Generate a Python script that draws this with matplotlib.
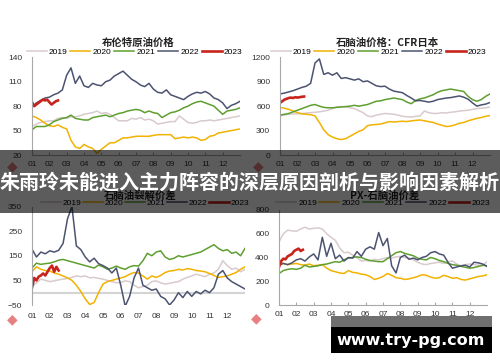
import numpy as np
import matplotlib
matplotlib.use("Agg")
import matplotlib.pyplot as plt
from matplotlib.patches import Rectangle

plt.rcParams["font.family"] = ["Liberation Sans", "DejaVu Sans"]
CJK = ["Noto Sans CJK SC", "DejaVu Sans"]

years = ["2019", "2020", "2021", "2022", "2023"]
colors = ["#d8cacd", "#f2b200", "#5e9f2f", "#4c5370", "#c8231c"]
months = ["01", "02", "03", "04", "05", "06", "07", "08", "09", "10", "11", "12"]

# one value per ~week, position in months (0 = 1 Jan, 12 = 31 Dec)
weeks = np.arange(49) * 0.25

# ---- 布伦特原油价格 ----
brent_2019 = [55, 58, 60, 61, 62, 62, 65, 66, 65, 67, 67, 68, 70, 71, 72, 74, 71, 72, 70, 66,
              62, 62, 62, 65, 64, 66, 63, 64, 62, 58, 59, 60, 61, 61, 68, 64, 60, 59, 60, 62,
              62, 63, 62, 63, 64, 65, 66, 67, 68]
brent_2020 = [68, 66, 63, 59, 56, 55, 57, 54, 52, 38, 30, 28, 33, 30, 28, 22, 27, 31, 35, 35,
              38, 41, 41, 42, 43, 43, 43, 43, 44, 45, 45, 45, 45, 40, 41, 42, 41, 42, 41, 38,
              39, 43, 44, 47, 48, 49, 50, 51, 52]
brent_2021 = [51, 55, 55, 55, 57, 61, 63, 65, 66, 69, 65, 64, 63, 63, 66, 67, 68, 69, 67, 69,
              71, 72, 74, 75, 76, 75, 72, 74, 72, 71, 66, 69, 72, 73, 75, 78, 80, 83, 85, 86,
              84, 82, 80, 75, 70, 74, 75, 76, 78]
brent_2022 = [79, 84, 87, 90, 91, 94, 96, 100, 118, 127, 108, 117, 105, 103, 108, 106, 105, 110,
              112, 117, 120, 123, 118, 113, 110, 106, 104, 108, 101, 97, 96, 100, 94, 92, 90, 88,
              92, 95, 97, 96, 98, 95, 90, 88, 84, 77, 81, 83, 86]
brent_2023 = [85, 80, 82, 84, 86, 88, 87, 88, 85, 82, 84, 86, 87]

# ---- 石脑油价格：CFR日本 ----
naphtha_2019 = [480, 490, 500, 505, 505, 510, 515, 520, 525, 530, 540, 550, 570, 590, 595, 590,
                580, 570, 545, 520, 480, 470, 490, 500, 510, 505, 500, 490, 475, 470, 465, 475,
                480, 540, 520, 510, 510, 520, 515, 525, 530, 540, 545, 550, 560, 570, 575, 580, 590]
naphtha_2020 = [585, 575, 560, 540, 520, 505, 500, 495, 480, 400, 310, 250, 220, 200, 190, 200,
                230, 260, 290, 310, 360, 370, 375, 380, 395, 410, 405, 410, 415, 410, 420, 425,
                430, 420, 410, 400, 380, 365, 350, 355, 370, 390, 400, 420, 435, 450, 460, 475, 485]
naphtha_2021 = [490, 500, 510, 530, 550, 570, 590, 610, 620, 600, 585, 580, 580, 585, 590, 595,
                600, 610, 600, 610, 620, 640, 660, 665, 680, 690, 700, 690, 680, 650, 630, 670,
                690, 700, 720, 740, 770, 790, 800, 810, 800, 790, 780, 720, 680, 660, 680, 720, 750]
naphtha_2022 = [750, 760, 775, 790, 810, 830, 845, 880, 1130, 1180, 990, 1010, 980, 1010, 940, 950,
                935, 920, 935, 900, 910, 880, 850, 840, 845, 810, 785, 775, 765, 730, 700, 665,
                670, 660, 650, 660, 680, 690, 700, 705, 715, 725, 710, 685, 640, 600, 615, 625, 645]
naphtha_2023 = [640, 660, 680, 690, 700, 705, 700, 710, 705, 710, 715, 718]

# ---- 石脑油裂解价差 ----
crack_2019 = [25, 40, 55, 50, 45, 48, 52, 55, 58, 62, 68, 65, 68, 60, 62, 58, 55, 50, 45, 40,
              42, 48, 45, 30, 20, 25, 30, 45, 48, 40, 35, 38, 42, 45, 55, 62, 68, 75, 70, 65,
              75, 80, 95, 130, 110, 95, 100, 85, 95]
crack_2020 = [85, 105, 95, 90, 88, 80, 75, 68, 60, 50, 30, 5, -25, -48, -40, 0, 35, 45, 50, 55,
              60, 65, 75, 82, 80, 68, 55, 68, 62, 70, 82, 88, 90, 95, 92, 98, 95, 90, 88, 85,
              78, 70, 62, 65, 68, 75, 82, 95, 105]
crack_2021 = [100, 120, 115, 118, 120, 125, 132, 135, 130, 125, 120, 115, 110, 105, 100, 112,
              105, 95, 100, 108, 100, 95, 105, 110, 108, 130, 160, 150, 165, 170, 145, 135,
              140, 150, 145, 150, 155, 160, 165, 175, 185, 195, 180, 170, 175, 160, 165, 150, 180]
crack_2022 = [177, 145, 165, 158, 170, 165, 172, 200, 300, 350, 190, 175, 145, 125, 140, 118,
              110, 100, 80, 100, 30, -55, -15, 60, 100, 30, 20, 10, 15, -15, -25, -50,
              -30, 0, -20, 5, -15, 5, -5, 10, 0, 20, 75, 90, 60, 45, 35, 25, 15]
crack_2023 = [20, 60, 50, 65, 70, 78, 70, 85, 100, 110, 85, 105, 90]

# ---- PX-石脑油价差 ----
px_2019 = [530, 600, 630, 625, 620, 640, 655, 640, 645, 650, 640, 600, 570, 545, 480, 440,
           445, 420, 400, 370, 375, 370, 385, 380, 390, 400, 395, 405, 410, 400, 395, 380,
           360, 345, 340, 350, 355, 360, 350, 365, 370, 345, 330, 340, 345, 340, 335, 330, 365]
px_2020 = [365, 350, 340, 345, 350, 340, 335, 345, 330, 335, 340, 310, 290, 280, 270, 265,
           290, 275, 270, 260, 255, 240, 215, 225, 240, 265, 250, 230, 225, 215, 220, 230,
           240, 255, 250, 235, 225, 230, 250, 240, 225, 230, 215, 210, 220, 230, 240, 245, 255]
px_2021 = [265, 290, 300, 305, 300, 310, 335, 320, 325, 330, 340, 345, 355, 365, 360, 380,
           395, 400, 405, 400, 385, 375, 370, 365, 365, 390, 415, 440, 450, 435, 425, 415,
           395, 385, 380, 400, 390, 375, 365, 350, 340, 335, 325, 318, 310, 315, 325, 335, 330]
px_2022 = [335, 350, 340, 355, 380, 390, 370, 405, 430, 380, 570, 410, 520, 390, 420, 370,
           400, 395, 450, 410, 470, 490, 470, 610, 500, 560, 330, 270, 400, 420, 385, 395,
           380, 400, 410, 440, 450, 430, 420, 360, 310, 320, 330, 335, 320, 360, 355, 345, 325]
px_2023 = [320, 370, 390, 385, 410, 420, 430, 455, 465, 475, 455, 465]

W, H = 500, 362
fig = plt.figure(figsize=(W / 100, H / 100), dpi=100)


def fx(x):
    return x / W


def fy(y):
    return 1 - y / H


panels = [
    # title, series, 2023, ylim, yticks, axes box (px), title y, legend centre, col spacing, zero line
    ("布伦特原油价格", [brent_2019, brent_2020, brent_2021, brent_2022], brent_2023,
     (20, 140), [20, 50, 80, 110, 140], (32, 240, 57.3, 155), 43, (134.5, 52), 0.36, False),
    ("石脑油价格：CFR日本", [naphtha_2019, naphtha_2020, naphtha_2021, naphtha_2022], naphtha_2023,
     (0, 1200), [0, 300, 600, 900, 1200], (280, 490, 57.3, 155), 43, (378.5, 52), 0.36, False),
    ("石脑油裂解价差", [crack_2019, crack_2020, crack_2021, crack_2022], crack_2023,
     (-50, 350), [-50, 50, 150, 250, 350], (32, 245, 206.5, 305), 196, (145, 203), 0.15, True),
    ("PX-石脑油价差", [px_2019, px_2020, px_2021, px_2022], px_2023,
     (0, 800), [0, 200, 400, 600, 800], (279, 487, 210, 305), 196, (383, 203), 0.3, False),
]

for title, series, s2023, ylim, yticks, box, ty, lxy, colsp, zero in panels:
    x0, x1, ytop, ybot = box
    ax = fig.add_axes([fx(x0), fy(ybot), (x1 - x0) / W, (ybot - ytop) / H])
    handles = []
    for vals, c in zip(series, colors[:4]):
        h, = ax.plot(weeks, vals, color=c, lw=1.1)
        handles.append(h)
    h, = ax.plot(np.arange(len(s2023)) * 0.125, s2023, color=colors[4], lw=1.9)
    handles.append(h)

    ax.set_xlim(0, 12)
    ax.set_ylim(*ylim)
    ax.set_yticks(yticks)
    ax.set_xticks(range(12))
    ax.set_xticklabels(months)
    for s in ["top", "right"]:
        ax.spines[s].set_visible(False)
    for s in ["left", "bottom"]:
        ax.spines[s].set_color("#a8a8a8")
        ax.spines[s].set_linewidth(0.8)
    ax.tick_params(axis="x", length=2, direction="in", color="#a8a8a8", pad=4,
                   labelsize=6, labelcolor="#333333")
    ax.tick_params(axis="y", length=0, pad=7, labelsize=6, labelcolor="#333333")
    if zero:
        ax.spines["bottom"].set_visible(False)
        ax.tick_params(axis="x", length=0, pad=6)
        ax.axhline(0, color="#d4d4d4", lw=1.5, zorder=0)

    ax.legend(handles, years, loc="center", bbox_to_anchor=(fx(lxy[0]), fy(lxy[1])),
              bbox_transform=fig.transFigure, ncol=5, frameon=False, fontsize=6,
              handlelength=2.4, handletextpad=0.25, columnspacing=colsp,
              borderpad=0, borderaxespad=0)
    fig.text(fx((x0 + x1) / 2 + 2), fy(ty), title, ha="center", va="center",
             fontsize=7.5, fontweight="bold", family=CJK, color="#222222")

# logos
for lx, ly in [(12, 166), (258, 166), (12, 319), (256, 318)]:
    fig.text(fx(lx), fy(ly), "◆", ha="center", va="center", fontsize=10,
             color="#e36a6a", alpha=0.85, family=["DejaVu Sans"])

# banner
fig.add_artist(Rectangle((0, fy(213)), 1, 63 / H, transform=fig.transFigure,
                         facecolor="black", alpha=0.64, edgecolor="none", zorder=10))
fig.text(0.5, fy(182), "朱雨玲未能进入主力阵容的深层原因剖析与影响因素解析",
         ha="center", va="center", fontsize=14.4, fontweight="bold", color="white",
         family=CJK, zorder=11)

# watermark
fig.add_artist(Rectangle((fx(331), fy(327)), 161 / W, 11 / H, transform=fig.transFigure,
                         facecolor="#6f6f6f", edgecolor="none", zorder=12))
fig.add_artist(Rectangle((fx(331), fy(353)), 161 / W, 26 / H, transform=fig.transFigure,
                         facecolor="black", edgecolor="none", zorder=12))
fig.text(fx(411), fy(340), "www.try-pg.com", ha="center", va="center", fontsize=11.5,
         fontweight="bold", color="white", family=["DejaVu Sans"], zorder=13)

fig.savefig("out.png", dpi=100)
